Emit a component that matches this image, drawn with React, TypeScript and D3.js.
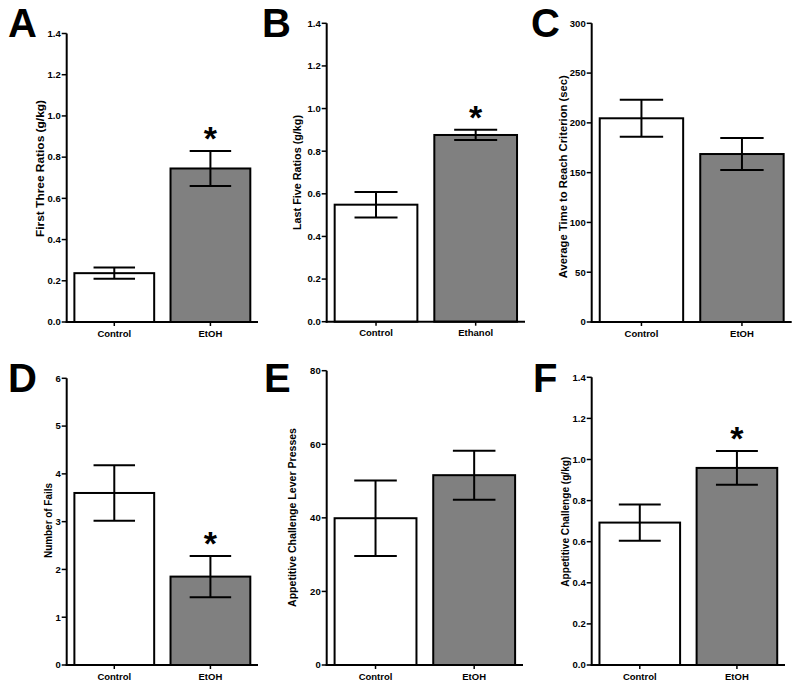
import React from "react";
import * as d3 from "d3";

// ---------- data ----------
const panelLetters = ["A", "B", "C", "D", "E", "F"];
const yTitles = [
  "First Three Ratios (g/kg)",
  "Last Five Ratios (g/kg)",
  "Average Time to Reach Criterion (sec)",
  "Number of Fails",
  "Appetitive Challenge Lever Presses",
  "Appetitive Challenge (g/kg)",
];
const catsEtOH = ["Control", "EtOH"];
const catsEthanol = ["Control", "Ethanol"];

const meansA = [0.237, 0.745];
const semA = [0.027, 0.085];
const meansB = [0.549, 0.876];
const semB = [0.06, 0.024];
const meansC = [204.6, 168.7];
const semC = [18.6, 16.0];
const meansD = [3.6, 1.85];
const semD = [0.58, 0.43];
const meansE = [39.9, 51.6];
const semE = [10.25, 6.65];
const meansF = [0.693, 0.959];
const semF = [0.088, 0.082];

const sigA = [false, true];
const sigB = [false, true];
const sigC = [false, false];
const sigD = [false, true];
const sigE = [false, false];
const sigF = [false, true];

const ticksRatio = [0, 0.2, 0.4, 0.6, 0.8, 1.0, 1.2, 1.4];
const ticksTime = [0, 50, 100, 150, 200, 250, 300];
const ticksFails = [0, 1, 2, 3, 4, 5, 6];
const ticksPresses = [0, 20, 40, 60, 80];

const panels = [
  { cats: catsEtOH, means: meansA, sem: semA, sig: sigA, ticks: ticksRatio, fmt: ".1f" },
  { cats: catsEthanol, means: meansB, sem: semB, sig: sigB, ticks: ticksRatio, fmt: ".1f" },
  { cats: catsEtOH, means: meansC, sem: semC, sig: sigC, ticks: ticksTime, fmt: "d" },
  { cats: catsEtOH, means: meansD, sem: semD, sig: sigD, ticks: ticksFails, fmt: "d" },
  { cats: catsEtOH, means: meansE, sem: semE, sig: sigE, ticks: ticksPresses, fmt: "d" },
  { cats: catsEtOH, means: meansF, sem: semF, sig: sigF, ticks: ticksRatio, fmt: ".1f" },
];

// ---------- layout ----------
const layout = [
  { x0: 66.7, x1: 258, yb: 322, yt: 33.5, lx: 8, ly: 37, tx: 40, ty: 168.5, tl: 137 },
  { x0: 326.7, x1: 525, yb: 321.7, yt: 23.3, lx: 262, ly: 37, tx: 297, ty: 172.5, tl: 115 },
  { x0: 591.7, x1: 791.7, yb: 322, yt: 23.3, lx: 531, ly: 37, tx: 563, ty: 176.7, tl: 203 },
  { x0: 66.7, x1: 258, yb: 665, yt: 378.3, lx: 8, ly: 392, tx: 48, ty: 520.5, tl: 75 },
  { x0: 326.7, x1: 523, yb: 665, yt: 370.7, lx: 264, ly: 392, tx: 292, ty: 517.5, tl: 179 },
  { x0: 591.7, x1: 785, yb: 665, yt: 377.3, lx: 533, ly: 392, tx: 565, ty: 521.7, tl: 130 },
];

const FONT = "Arial, 'Liberation Sans', Helvetica, sans-serif";

function Panel({ idx }: { idx: number }) {
  const p = panels[idx];
  const L = layout[idx];
  const x = d3
    .scaleBand<string>()
    .domain(p.cats)
    .range([L.x0, L.x1])
    .paddingInner(0.17)
    .paddingOuter(0.08);
  const y = d3
    .scaleLinear()
    .domain([0, p.ticks[p.ticks.length - 1]])
    .range([L.yb, L.yt]);
  const fmt = d3.format(p.fmt);
  const bw = x.bandwidth();
  const capW = bw * 0.52;

  return (
    <g>
      {p.cats.map((c, i) => (
        <rect
          key={"b" + c}
          x={x(c)!}
          y={y(p.means[i])}
          width={bw}
          height={L.yb - y(p.means[i])}
          fill={i === 0 ? "#ffffff" : "#808080"}
          stroke="#000"
          strokeWidth={2}
        />
      ))}
      {p.cats.map((c, i) => {
        const cx = x(c)! + bw / 2;
        const hi = y(p.means[i] + p.sem[i]);
        const lo = y(p.means[i] - p.sem[i]);
        return (
          <g key={"e" + c} stroke="#000" strokeWidth={2}>
            <line x1={cx} x2={cx} y1={hi} y2={lo} />
            <line x1={cx - capW / 2} x2={cx + capW / 2} y1={hi} y2={hi} />
            <line x1={cx - capW / 2} x2={cx + capW / 2} y1={lo} y2={lo} />
            {p.sig[i] && (
              <text
                x={cx}
                y={hi - 1}
                textAnchor="middle"
                fontFamily={FONT}
                fontWeight="bold"
                fontSize={34}
                stroke="none"
                fill="#000"
              >
                *
              </text>
            )}
          </g>
        );
      })}
      <line x1={L.x0} x2={L.x0} y1={L.yt} y2={L.yb + 1} stroke="#000" strokeWidth={2} />
      {p.ticks.map((t) => (
        <g key={"t" + t}>
          <line x1={L.x0 - 5} x2={L.x0} y1={y(t)} y2={y(t)} stroke="#000" strokeWidth={1.5} />
          <text
            x={L.x0 - 6}
            y={y(t)}
            dy="0.35em"
            textAnchor="end"
            fontFamily={FONT}
            fontWeight="bold"
            fontSize={9.5}
            fill="#000"
          >
            {fmt(t)}
          </text>
        </g>
      ))}
      <line x1={L.x0 - 1} x2={L.x1} y1={L.yb} y2={L.yb} stroke="#000" strokeWidth={2} />
      {p.cats.map((c) => {
        const cx = x(c)! + bw / 2;
        return (
          <g key={"x" + c}>
            <line x1={cx} x2={cx} y1={L.yb} y2={L.yb + 4} stroke="#000" strokeWidth={1.5} />
            <text
              x={cx}
              y={L.yb + 14.5}
              textAnchor="middle"
              fontFamily={FONT}
              fontWeight="bold"
              fontSize={9.5}
              fill="#000"
            >
              {c}
            </text>
          </g>
        );
      })}
      <text
        transform={`translate(${L.tx},${L.ty}) rotate(-90)`}
        textAnchor="middle"
        dy="0.35em"
        fontFamily={FONT}
        fontWeight="bold"
        fontSize={10.5}
        textLength={L.tl}
        lengthAdjust="spacingAndGlyphs"
        fill="#000"
      >
        {yTitles[idx]}
      </text>
      <text x={L.lx} y={L.ly} fontFamily={FONT} fontWeight="bold" fontSize={40} fill="#000">
        {panelLetters[idx]}
      </text>
    </g>
  );
}

export default function App() {
  return (
    <svg
      width={800}
      height={688}
      style={{ position: "absolute", left: 0, top: 0, background: "#fff" }}
    >
      <rect x={0} y={0} width={800} height={688} fill="#fff" />
      {panels.map((_, i) => (
        <Panel key={i} idx={i} />
      ))}
    </svg>
  );
}
